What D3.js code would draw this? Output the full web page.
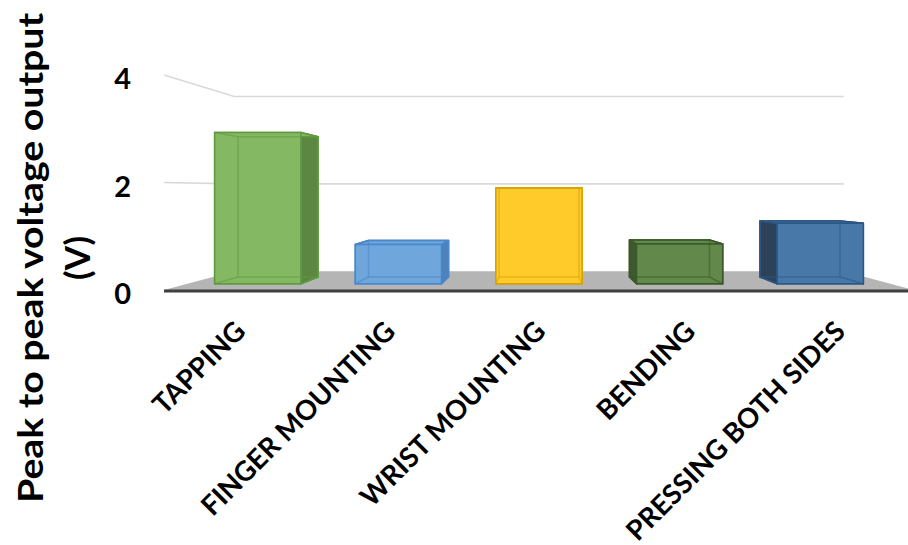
<!DOCTYPE html>
<html>
<head>
<meta charset="utf-8">
<script src="https://cdn.jsdelivr.net/npm/d3@7"></script>
<style>
  body { margin: 0; background: #fff; }
  svg text { font-family: Lato, "Open Sans", sans-serif; font-weight: bold; fill: #000; }
</style>
</head>
<body>
<svg width="908" height="545"></svg>
<script>
// data
let categories = ['TAPPING', 'FINGER MOUNTING', 'WRIST MOUNTING', 'BENDING', 'PRESSING BOTH SIDES']
let values = [3.0, 0.78, 1.9, 0.79, 1.2]
let yTicks = [0, 2, 4]

// colours per bar: front, side, outline
let fronts = ['#84b862', '#6fa6dc', '#fecb2b', '#62894b', '#4878a8']
let sides = ['#5b8743', '#4f82bb', '#e0ab10', '#3d5931', '#2e4257']
let outlines = ['#5f9b3e', '#4887c9', '#d6a200', '#3a5a2a', '#2b5787']

let width = 908
let height = 545

// perspective: vanishing point and depth scale of each plane
let vx = 539
let vy = 190
let sFront = 1
let sBarFront = 0.9375
let sBarBack = 0.87
let sBack = 0.8125

let svg = d3.select('svg')

let xScale = d3.scaleBand()
    .domain(categories)
    .range([164, 914])
    .paddingInner(0.387)
    .paddingOuter(0.1935)

let yScale = d3.scaleLinear()
    .domain([0, 4])
    .range([290, 75])

// project a front-plane point to a given depth
let proj = (x, y, s) => [vx + s * (x - vx), vy + s * (y - vy)]

let line = d3.line()

let x0 = xScale.range()[0]
let x1 = xScale.range()[1]
let yBase = yScale(0)

// gridlines on left wall and back wall
let grid = svg.append('g')
yTicks.filter(t => t > 0).forEach(t => {
    let pts = [proj(x0, yScale(t), sFront), proj(x0, yScale(t), sBack), proj(x1, yScale(t), sBack)]
    grid.append('path')
        .attr('d', line(pts))
        .attr('fill', 'none')
        .attr('stroke', '#d9d9d9')
        .attr('stroke-width', 1.6)
})

// floor
let floorPts = [proj(x0, yBase, sFront), proj(x1, yBase, sFront), proj(x1, yBase, sBack), proj(x0, yBase, sBack)]
svg.append('path')
    .attr('d', line(floorPts) + 'Z')
    .attr('fill', '#b5b5b5')
svg.append('path')
    .attr('d', line([[x0, yBase + 1], [x1, yBase + 1]]))
    .attr('stroke', '#3f3f3f')
    .attr('stroke-width', 3)

// bars
let bars = svg.append('g')
categories.forEach((c, i) => {
    let bx0 = xScale(c)
    let bx1 = xScale(c) + xScale.bandwidth()
    let yTop = yScale(values[i])
    let g = bars.append('g')

    let F = [proj(bx0, yTop, sBarFront), proj(bx1, yTop, sBarFront), proj(bx1, yBase, sBarFront), proj(bx0, yBase, sBarFront)]
    let B = [proj(bx0, yTop, sBarBack), proj(bx1, yTop, sBarBack), proj(bx1, yBase, sBarBack), proj(bx0, yBase, sBarBack)]

    let face = (pts, fill) => {
        g.append('path')
            .attr('d', line(pts) + 'Z')
            .attr('fill', fill)
            .attr('stroke', outlines[i])
            .attr('stroke-width', 1.5)
            .attr('stroke-linejoin', 'round')
    }

    face(B, fronts[i])
    face([F[3], F[2], B[2], B[3]], fronts[i])
    face([F[0], F[3], B[3], B[0]], sides[i])
    face([F[1], F[2], B[2], B[1]], sides[i])
    face([F[0], F[1], B[1], B[0]], fronts[i])
    face(F, fronts[i])

    // hidden edges seen through the glassy front
    let hidden = g.append('g')
        .attr('stroke', outlines[i])
        .attr('stroke-width', 1.5)
        .attr('stroke-opacity', 0.55)
        .attr('fill', 'none')
    hidden.append('path').attr('d', line(B) + 'Z')
    for (let k = 0; k < 4; k++) {
        hidden.append('path').attr('d', line([F[k], B[k]]))
    }
})

// y tick labels
svg.append('g')
    .selectAll('text')
    .data(yTicks)
    .enter()
    .append('text')
    .attr('x', 131)
    .attr('y', d => yScale(d) + 14)
    .attr('text-anchor', 'end')
    .attr('font-size', 29)
    .text(d => d)

// category labels
svg.append('g')
    .selectAll('text')
    .data(categories)
    .enter()
    .append('text')
    .attr('text-anchor', 'end')
    .attr('font-size', 27.5)
    .attr('transform', d => 'translate(' + (xScale(d) + xScale.bandwidth() / 2 + 8) + ',333) rotate(-45)')
    .text(d => d)

// y axis title
let title = svg.append('g')
    .attr('transform', 'translate(0,258) rotate(-90)')
title.append('text')
    .attr('x', 0)
    .attr('y', 43)
    .attr('text-anchor', 'middle')
    .attr('font-size', 35)
    .attr('textLength', 490)
    .attr('lengthAdjust', 'spacingAndGlyphs')
    .text('Peak to peak voltage output')
title.append('text')
    .attr('x', 0)
    .attr('y', 90)
    .attr('text-anchor', 'middle')
    .attr('font-size', 35)
    .text('(V)')
</script>
</body>
</html>
